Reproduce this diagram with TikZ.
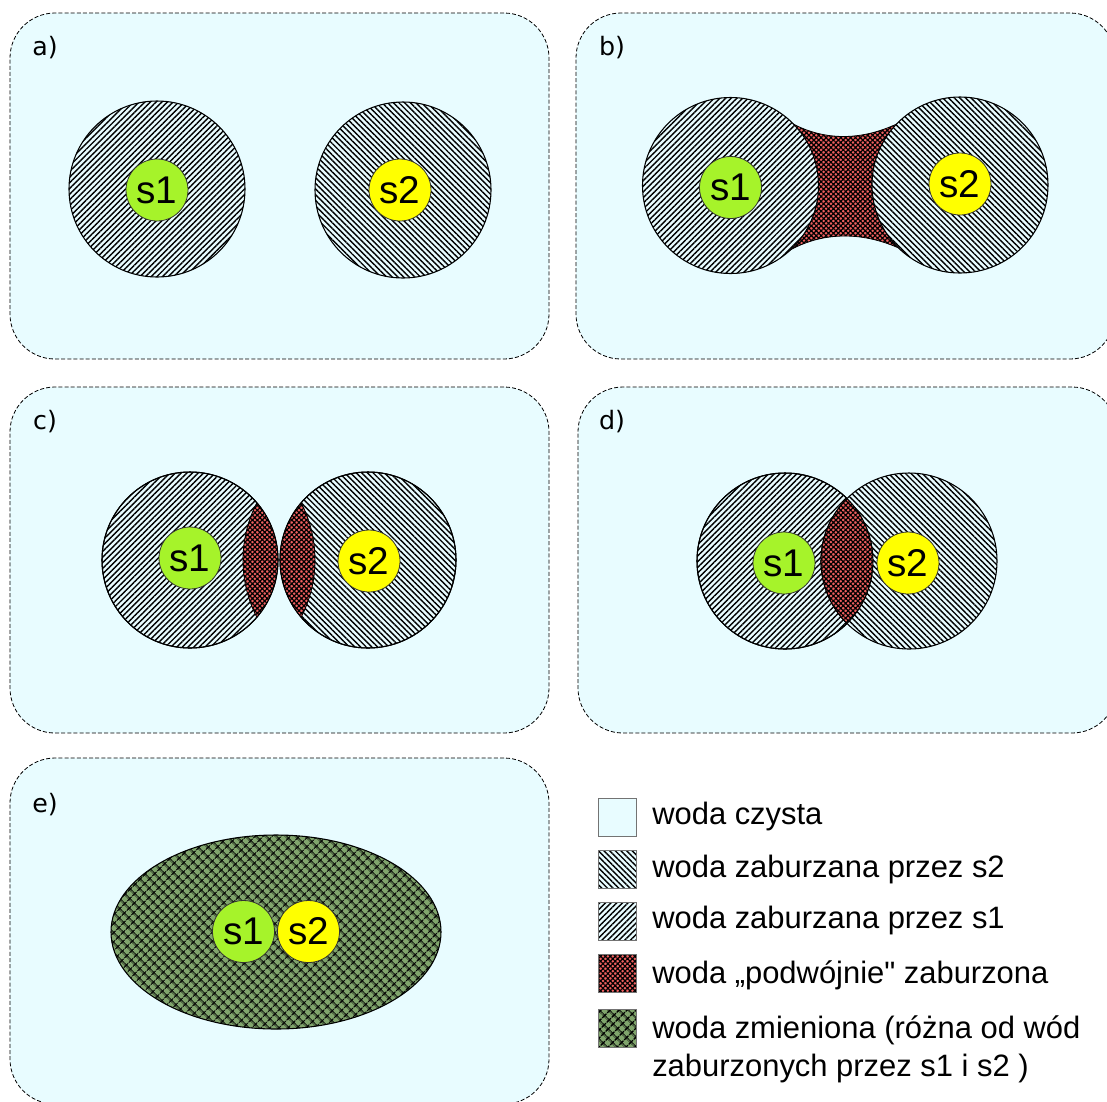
\documentclass[tikz,border=0pt]{standalone}
\usepackage{fontspec}
\setmainfont{Liberation Sans}[Ligatures=TeXOff]
\newfontfamily\lblfont{DejaVu Sans}
\usetikzlibrary{patterns.meta,shapes.geometric}
\definecolor{water}{RGB}{232,252,255}
\definecolor{srcgreen}{RGB}{166,243,42}
\definecolor{srcyellow}{RGB}{255,255,0}
\definecolor{dblred}{RGB}{240,96,96}
\definecolor{chgreen}{RGB}{128,165,108}
\tikzset{
  panel/.style={draw=black,dash pattern=on 3pt off 1.6pt,line width=0.6pt,fill=water,rounded corners=33.75pt,minimum width=404.25pt,minimum height=259.5pt,inner sep=0pt},
  hatchA/.style={preaction={fill=water},pattern={Lines[angle=45,distance=3pt,line width=1.05pt]},pattern color=black},
  hatchB/.style={preaction={fill=water},pattern={Lines[angle=-45,distance=3pt,line width=1.05pt]},pattern color=black},
  dbl/.style={preaction={fill=dblred},pattern={Hatch[angle=45,distance=2.6pt,line width=0.9pt]},pattern color=black},
  chg/.style={preaction={fill=chgreen},pattern={Hatch[angle=45,distance=5.4pt,line width=1.15pt]},pattern color=black},
  zone/.style={circle,draw=black,line width=0.8pt,minimum size=132pt,inner sep=0pt},
  src/.style={circle,draw=black!80,line width=0.6pt,minimum size=46.5pt,inner sep=0pt,font=\fontsize{29}{30}\selectfont},
  lbl/.style={font=\lblfont\fontsize{19}{22}\selectfont,inner sep=0pt},
  legsq/.style={draw=black!55,line width=0.7pt,minimum size=28.5pt,inner sep=0pt},
  legtxt/.style={anchor=base west,inner sep=0pt,font=\fontsize{23.2}{28}\selectfont}
}
\begin{document}
\begin{tikzpicture}[x=0.75pt,y=-0.75pt]
\useasboundingbox (0,0) rectangle (1107,1101);
\clip (0,0) rectangle (1107,1101);
\node[panel] (pa) at (279.5,186) {};
\node[panel] (pb) at (845.5,186) {};
\node[panel] (pc) at (279.5,560) {};
\node[panel] (pd) at (847.5,560) {};
\node[panel] (pe) at (279.5,931) {};
\node[lbl] (la) at (45,48) {a)};
\node[lbl] (lb) at (612,48) {b)};
\node[lbl] (lc) at (45,422) {c)};
\node[lbl] (ld) at (612,422) {d)};
\node[lbl] (le) at (45,805) {e)};

\node[zone,hatchA] (za1) at (157,189) {};
\node[zone,hatchB] (za2) at (403,190) {};
\node[src,fill=srcgreen] (sa1) at (157,190) {s1};
\node[src,fill=srcyellow] (sa2) at (400,190) {s2};

\draw[dbl,line width=0.6pt] (772,110) .. controls (815,145) and (868,145) .. (918,112) -- (918,258) .. controls (868,228) and (815,228) .. (772,262) -- cycle;
\node[zone,hatchA] (zb1) at (730.5,185.5) {};
\node[zone,hatchB] (zb2) at (960,185) {};
\node[src,fill=srcgreen] (sb1) at (730.5,187.5) {s1};
\node[src,fill=srcyellow] (sb2) at (960,184) {s2};

\node[zone,hatchA] (zc1) at (190,560) {};
\node[zone,hatchB] (zc2) at (368,560) {};
\begin{scope}
  \clip (zc1.center) circle[radius=88];
  \draw[dbl,line width=0.6pt] (zc2.center) circle[radius=125];
\end{scope}
\begin{scope}
  \clip (zc2.center) circle[radius=88];
  \draw[dbl,line width=0.6pt] (zc1.center) circle[radius=125];
\end{scope}
\draw[line width=0.8pt] (zc1.center) circle[radius=88] (zc2.center) circle[radius=88];
\node[src,fill=srcgreen] (sc1) at (190,558) {s1};
\node[src,fill=srcyellow] (sc2) at (369,561) {s2};

\node[zone,hatchA] (zd1) at (785,561) {};
\node[zone,hatchB] (zd2) at (909,561) {};
\begin{scope}
  \clip (zd1.center) circle[radius=88];
  \draw[dbl,line width=0.8pt] (zd2.center) circle[radius=88];
\end{scope}
\draw[line width=0.8pt] (zd1.center) circle[radius=88];
\node[src,fill=srcgreen] (sd1) at (784,563) {s1};
\node[src,fill=srcyellow] (sd2) at (908,563) {s2};

\node[chg,ellipse,draw=black,line width=0.8pt,minimum width=247.5pt,minimum height=145.5pt,inner sep=0pt] (ze) at (276,932) {};
\node[src,fill=srcgreen] (se1) at (243.5,931.5) {s1};
\node[src,fill=srcyellow] (se2) at (308.5,931.5) {s2};

\node[legsq,fill=water] (k1) at (617,817) {};
\node[legsq,hatchB] (k2) at (617,869) {};
\node[legsq,hatchA] (k3) at (617,921) {};
\node[legsq,dbl] (k4) at (617,973) {};
\node[legsq,chg] (k5) at (617,1028) {};
\node[legtxt] (t1) at (652,824) {woda czysta};
\node[legtxt] (t2) at (652,877) {woda zaburzana przez s2};
\node[legtxt] (t3) at (652,928) {woda zaburzana przez s1};
\node[legtxt] (t4) at (652,983) {woda „podwójnie" zaburzona};
\node[legtxt] (t5) at (652,1038) {woda zmieniona (różna od wód};
\node[legtxt] (t6) at (652,1076) {zaburzonych przez s1 i s2 )};
\end{tikzpicture}
\end{document}
